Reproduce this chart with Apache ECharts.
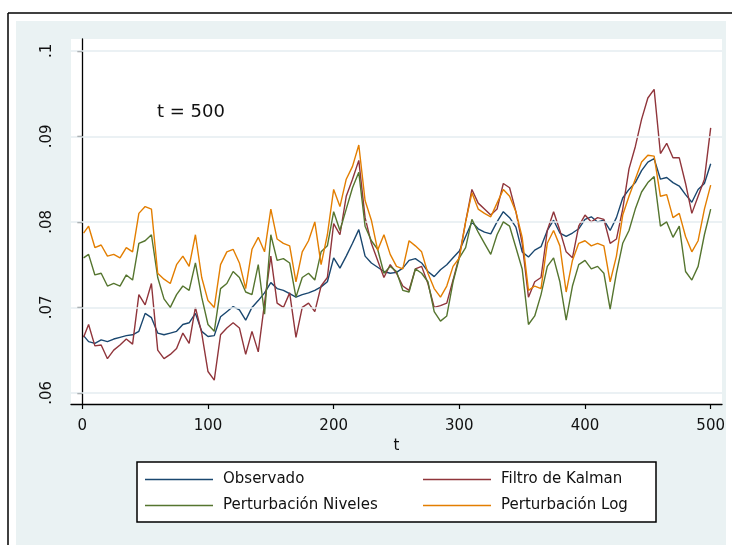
<!DOCTYPE html>
<html>
<head>
<meta charset="utf-8">
<script src="https://cdn.jsdelivr.net/npm/echarts@6/dist/echarts.min.js"></script>
<style>html,body{margin:0;padding:0;background:#fff;}#c{width:732px;height:545px;}</style>
</head>
<body>
<div id="c"></div>
<script>
const tValues = [1,5,10,15,20,25,30,35,40,45,50,55,60,65,70,75,80,85,90,95,100,105,110,115,120,125,130,135,140,145,150,155,160,165,170,175,180,185,190,195,200,205,210,215,220,225,230,235,240,245,250,255,260,265,270,275,280,285,290,295,300,305,310,315,320,325,330,335,340,345,350,355,360,365,370,375,380,385,390,395,400,405,410,415,420,425,430,435,440,445,450,455,460,465,470,475,480,485,490,495,500];
const observado = [
0.0667,0.0660,0.0658,0.0662,0.0660,0.0663,0.0665,0.0667,0.0668,0.0672,
0.0693,0.0688,0.0670,0.0668,0.0670,0.0672,0.0680,0.0682,0.0693,0.0672,
0.0666,0.0667,0.0689,0.0695,0.0701,0.0697,0.0685,0.0700,0.0708,0.0717,
0.0729,0.0722,0.0720,0.0716,0.0712,0.0715,0.0717,0.0720,0.0724,0.0730,
0.0758,0.0746,0.0760,0.0775,0.0791,0.0760,0.0752,0.0747,0.0742,0.0740,
0.0741,0.0746,0.0755,0.0757,0.0752,0.0742,0.0736,0.0744,0.0750,0.0758,
0.0766,0.0783,0.0800,0.0792,0.0788,0.0786,0.0800,0.0812,0.0805,0.0794,
0.0765,0.0759,0.0767,0.0771,0.0790,0.0802,0.0787,0.0783,0.0787,0.0792,
0.0803,0.0806,0.0800,0.0802,0.0790,0.0805,0.0828,0.0838,0.0846,0.0860,
0.0870,0.0874,0.0850,0.0852,0.0846,0.0842,0.0832,0.0823,0.0838,0.0845,
0.0868];
const kalman = [
0.0665,0.0680,0.0655,0.0656,0.0640,0.0650,0.0656,0.0663,0.0657,0.0715,
0.0703,0.0728,0.0650,0.0640,0.0645,0.0652,0.0670,0.0658,0.0700,0.0670,
0.0625,0.0615,0.0668,0.0676,0.0682,0.0676,0.0645,0.0672,0.0648,0.0705,
0.0760,0.0705,0.0700,0.0717,0.0665,0.0700,0.0705,0.0695,0.0725,0.0735,
0.0798,0.0785,0.0830,0.0850,0.0872,0.0805,0.0775,0.0755,0.0735,0.0750,
0.0740,0.0725,0.0720,0.0745,0.0748,0.0728,0.0700,0.0702,0.0705,0.0732,
0.0760,0.0800,0.0838,0.0822,0.0815,0.0808,0.0815,0.0845,0.0840,0.0812,
0.0775,0.0712,0.0730,0.0735,0.0790,0.0812,0.0790,0.0765,0.0758,0.0795,
0.0808,0.0800,0.0805,0.0803,0.0775,0.0780,0.0815,0.0862,0.0888,0.0920,
0.0945,0.0955,0.0880,0.0892,0.0875,0.0875,0.0845,0.0810,0.0830,0.0850,
0.0910];
const niveles = [
0.0758,0.0762,0.0738,0.0740,0.0725,0.0728,0.0725,0.0738,0.0732,0.0775,
0.0778,0.0785,0.0735,0.0710,0.0700,0.0715,0.0725,0.0720,0.0752,0.0712,
0.0680,0.0672,0.0722,0.0728,0.0742,0.0735,0.0718,0.0715,0.0750,0.0692,
0.0785,0.0755,0.0757,0.0752,0.0712,0.0735,0.0740,0.0732,0.0765,0.0772,
0.0812,0.0790,0.0815,0.0840,0.0858,0.0795,0.0778,0.0768,0.0740,0.0748,
0.0742,0.0720,0.0718,0.0745,0.0740,0.0730,0.0695,0.0684,0.0690,0.0730,
0.0758,0.0770,0.0803,0.0788,0.0775,0.0762,0.0785,0.0800,0.0795,0.0770,
0.0745,0.0680,0.0690,0.0715,0.0748,0.0758,0.0730,0.0685,0.0725,0.0750,
0.0755,0.0745,0.0748,0.0740,0.0698,0.0740,0.0775,0.0790,0.0815,0.0835,
0.0846,0.0853,0.0795,0.0800,0.0782,0.0795,0.0742,0.0732,0.0748,0.0785,
0.0815];
const logPert = [
0.0787,0.0795,0.0770,0.0773,0.0760,0.0762,0.0758,0.0770,0.0765,0.0810,
0.0818,0.0815,0.0740,0.0733,0.0728,0.0750,0.0760,0.0748,0.0785,0.0735,
0.0708,0.0700,0.0750,0.0765,0.0768,0.0752,0.0722,0.0768,0.0782,0.0765,
0.0815,0.0780,0.0775,0.0772,0.0730,0.0765,0.0778,0.0800,0.0750,0.0785,
0.0838,0.0818,0.0850,0.0865,0.0890,0.0825,0.0802,0.0767,0.0785,0.0762,
0.0748,0.0745,0.0778,0.0772,0.0765,0.0740,0.0722,0.0712,0.0725,0.0748,
0.0758,0.0800,0.0834,0.0815,0.0810,0.0806,0.0822,0.0838,0.0830,0.0812,
0.0782,0.0720,0.0725,0.0722,0.0775,0.0790,0.0772,0.0718,0.0755,0.0775,
0.0778,0.0772,0.0775,0.0772,0.0730,0.0760,0.0808,0.0830,0.0850,0.0870,
0.0878,0.0877,0.0830,0.0832,0.0805,0.0810,0.0783,0.0765,0.0778,0.0815,
0.0843];
const xTicks = [0,100,200,300,400,500];
const yTicks = [0.06,0.07,0.08,0.09,0.1];
const seriesNames = ['Observado','Filtro de Kalman','Perturbación Niveles','Perturbación Log'];
const colors = ['#1a476f','#90353b','#55752f','#e37e00'];
const annotation = 't = 500';

const FONT = 'DejaVu Sans';
const chart = echarts.init(document.getElementById('c'), null, {renderer:'canvas'});
const allData = [observado, kalman, niveles, logPert];
const series = allData.map((arr, k) => ({
  name: seriesNames[k], type: 'line', showSymbol: false, symbol: 'none',
  data: tValues.map((t, i) => [t, arr[i]]),
  lineStyle: {color: colors[k], width: 1.4}, itemStyle: {color: colors[k]},
  z: 3 + k, animation: false
}));
series.unshift({
  name: 'grid', type: 'line', data: [], z: 1, silent: true,
  markLine: {silent: true, symbol: 'none', animation: false, label: {show: false},
    lineStyle: {color: '#e4edf0', width: 1.5, type: 'solid'},
    data: yTicks.map(v => ({yAxis: v}))}
});
const legendItem = (name, left, top) => ({
  data: [name], left: left, top: top, icon: 'rect', itemWidth: 68, itemHeight: 1.5,
  padding: 0, textStyle: {fontFamily: FONT, fontSize: 15, color: '#111', padding: [0,0,0,5]},
  selectedMode: false
});
chart.setOption({
  animation: false,
  backgroundColor: '#fff',
  color: colors,
  graphic: [
    {type: 'rect', z: -10, shape: {x: 16, y: 21, width: 710, height: 530}, style: {fill: '#eaf2f3'}},
    {type: 'line', z: -9, shape: {x1: 8, y1: 13, x2: 732, y2: 13}, style: {stroke: '#000', lineWidth: 1.5}},
    {type: 'line', z: -9, shape: {x1: 8, y1: 13, x2: 8, y2: 545}, style: {stroke: '#000', lineWidth: 1.5}},
    {type: 'rect', z: 0, shape: {x: 137, y: 462, width: 519, height: 60}, style: {fill: '#fff', stroke: '#000', lineWidth: 1.5}},
    {type: 'text', z: 10, left: 157, top: 103, style: {text: annotation, font: '18px "DejaVu Sans"', fill: '#111'}}
  ],
  legend: [
    legendItem(seriesNames[0], 145, 472),
    legendItem(seriesNames[1], 423, 472),
    legendItem(seriesNames[2], 145, 498),
    legendItem(seriesNames[3], 423, 498)
  ],
  grid: {left: 71, right: 10, top: 39, bottom: 141, show: true, backgroundColor: '#fff', borderWidth: 0},
  xAxis: {
    type: 'value', min: -9, max: 509, name: 't', nameLocation: 'middle', nameGap: 30,
    nameTextStyle: {fontFamily: FONT, fontSize: 15, color: '#111'},
    axisLine: {show: true, lineStyle: {color: '#000', width: 1.3}},
    axisTick: {show: true, length: 5, customValues: xTicks, lineStyle: {color: '#000', width: 1.2}},
    axisLabel: {customValues: xTicks, margin: 15, fontFamily: FONT, fontSize: 15, color: '#111'},
    splitLine: {show: false}
  },
  yAxis: {
    type: 'value', min: 0.0587, max: 0.1014,
    axisLine: {show: true, lineStyle: {color: '#000', width: 1.3}},
    axisTick: {show: true, length: 5, customValues: yTicks, lineStyle: {color: '#000', width: 1.2}},
    axisLabel: {customValues: yTicks, rotate: 90, margin: 16, fontFamily: FONT, fontSize: 15, color: '#111',
      formatter: v => String(+(+v).toFixed(2)).replace(/^0/, '')},
    splitLine: {show: false}
  },
  series: series
});
</script>
</body>
</html>
